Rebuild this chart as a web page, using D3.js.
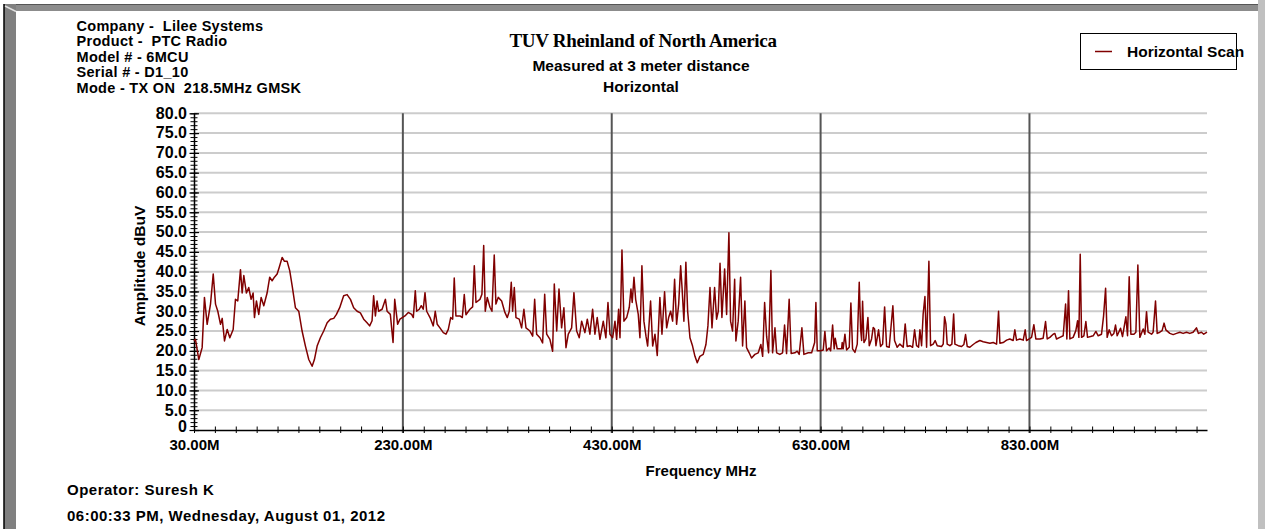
<!DOCTYPE html>
<html><head><meta charset="utf-8">
<script src="https://cdn.jsdelivr.net/npm/d3@7/dist/d3.min.js"></script>
<style>
body{margin:0;background:#fff;overflow:hidden;}
svg{display:block;}
text{font-family:"Liberation Sans",Arial,Helvetica,sans-serif;font-weight:bold;fill:#000;}
</style>
</head><body>
<svg id="chart" width="1265" height="529"></svg>
<script>
// ---------------- data ----------------
const headerLines = ["Company -  Lilee Systems","Product -  PTC Radio","Model # - 6MCU","Serial # - D1_10","Mode - TX ON  218.5MHz GMSK"];
const titleText = "TUV Rheinland of North America";
const subtitleLines = ["Measured at 3 meter distance","Horizontal"];
const seriesName = "Horizontal Scan";
const xAxisTitle = "Frequency MHz";
const yAxisTitle = "Amplitude dBuV";
const footerLines = ["Operator: Suresh K","06:00:33 PM, Wednesday, August 01, 2012"];
const xTickValues = [30,230,430,630,830];
const xTickLabels = ["30.00M","230.00M","430.00M","630.00M","830.00M"];
const yTickValues = [0,5,10,15,20,25,30,35,40,45,50,55,60,65,70,75,80];
const yTickLabels = ["0","5.0","10.0","15.0","20.0","25.0","30.0","35.0","40.0","45.0","50.0","55.0","60.0","65.0","70.0","75.0","80.0"];

const freqMHz = [
30.0,31.4,34.6,37.8,40.0,42.6,45.8,48.4,50.6,52.8,55.4,57.0,59.2,61.8,64.3,67.5,69.7,71.9,74.5,76.1,
77.7,80.2,82.4,84.7,86.6,87.9,89.8,92.0,94.3,96.8,100.0,102.5,104.8,107.0,109.6,111.5,114.4,116.6,119.2,121.7,
124.0,127.1,130.3,133.5,136.7,139.9,143.1,145.3,147.9,151.0,154.2,157.5,160.6,163.8,166.4,169.5,173.3,176.6,179.8,182.9,
186.2,189.3,192.5,195.7,198.2,200.5,202.0,203.7,205.3,206.8,210.1,213.3,214.9,218.0,220.6,222.2,225.0,
227.2,232.0,235.2,238.4,240.0,241.9,243.2,245.7,247.6,249.5,251.2,252.8,256.0,259.1,261.0,262.9,265.5,268.7,271.3,273.5,
275.8,277.7,279.2,280.8,284.7,286.9,288.8,290.4,294.2,296.8,298.4,300.0,303.8,305.7,307.4,308.9,310.8,313.4,315.3,317.5,
319.1,321.3,324.6,327.7,330.0,331.9,333.8,335.1,336.7,338.3,341.4,343.7,345.9,347.9,351.7,354.3,356.2,358.1,361.3,363.8,
365.8,367.7,370.8,373.4,375.0,377.3,379.5,382.0,384.2,386.2,388.4,391.6,393.8,396.4,398.9,401.2,404.3,406.6,409.1,411.7,
413.9,416.1,418.7,421.9,424.4,426.4,428.3,430.9,433.1,434.7,436.6,437.9,439.8,441.7,444.3,446.8,
448.4,449.6,451.3,452.9,455.4,457.0,458.9,460.8,462.8,464.4,467.2,469.2,471.4,473.6,476.1,478.1,480.6,482.6,484.5,486.4,
488.3,490.2,492.1,494.1,496.0,497.5,499.1,501.0,502.7,504.9,507.4,509.7,511.9,514.4,517.6,520.2,522.1,524.1,526.0,528.5,
530.4,532.0,533.7,535.5,538.1,540.0,542.2,543.8,545.7,547.7,548.9,551.1,553.4,555.3,557.5,559.1,561.6,563.9,567.1,570.3,
572.8,574.5,576.4,578.3,580.2,582.4,584.0,586.3,587.9,591.0,593.6,595.5,597.4,599.9,601.8,605.4,607.6,609.5,612.1,614.0,
618.2,621.4,
624.3,625.5,626.8,630.0,632.5,634.1,635.7,638.2,639.6,641.5,643.0,644.0,645.9,650.1,650.7,651.6,653.3,654.9,657.4,659.0,
660.6,662.9,665.1,667.0,668.3,669.3,670.2,671.5,673.4,675.3,676.6,678.8,680.4,681.7,683.0,685.5,687.4,689.4,691.3,693.2,
695.7,699.2,700.8,703.3,705.9,709.1,711.0,712.9,715.5,718.1,720.0,721.9,723.8,725.1,726.7,728.2,729.9,731.5,733.7,735.3,
737.8,739.7,741.7,745.8,747.4,748.7,750.0,751.2,753.8,755.7,757.4,758.6,761.8,765.0,767.2,768.8,770.4,772.9,776.1,778.7,
782.5,785.7,788.9,792.1,795.3,798.5,800.4,801.7,804.8,808.1,811.2,814.4,816.0,817.6,820.8,824.0,825.9,827.2,829.7,
832.0,834.2,836.1,840.0,843.1,845.4,847.0,849.5,852.7,854.3,855.9,859.1,862.3,864.6,865.8,867.4,868.7,871.8,874.4,876.1,
877.3,878.6,879.9,882.1,884.0,885.6,888.5,891.0,893.6,895.8,899.0,901.0,902.9,904.4,906.3,908.6,910.8,912.4,914.0,917.2,
919.1,922.3,923.9,925.5,927.1,930.0,931.9,933.8,935.7,938.9,940.5,942.1,943.6,946.9,948.4,950.7,952.3,954.8,957.0,958.9,
960.6,964.4,967.6,970.8,974.0,977.1,980.4,983.5,986.7,989.9,991.8,994.7,996.9,1000.0
];
const amplitudeDbuV = [
22.5,22.9,17.8,20.8,33.5,26.7,31.8,39.4,31.8,30.0,26.7,28.2,22.5,25.4,23.3,25.4,33.0,32.6,40.5,34.6,
39.0,34.6,36.0,33.0,34.6,28.4,32.6,29.2,33.5,31.4,34.6,38.6,37.7,38.6,39.4,41.0,43.6,42.6,42.6,40.2,
36.4,30.9,30.0,25.0,21.2,17.8,16.1,17.8,21.2,23.3,25.0,27.1,28.0,28.2,29.2,30.9,33.9,34.2,33.0,30.9,
30.0,29.6,28.0,27.1,26.3,27.6,33.9,28.8,32.6,30.0,30.5,33.0,30.0,29.2,22.1,33.0,26.7,
28.0,28.8,29.7,29.2,28.4,35.2,30.0,30.5,31.4,30.5,34.7,30.0,28.4,26.3,30.0,26.7,25.8,24.6,24.2,25.4,
28.4,28.0,38.4,28.8,28.8,28.4,34.2,29.1,30.5,31.1,41.5,32.2,33.0,34.3,46.6,30.0,33.5,31.0,30.0,44.2,
31.8,33.5,32.6,29.7,28.4,30.0,37.3,30.0,36.0,28.4,28.0,25.8,30.5,25.8,25.0,23.7,33.0,24.2,23.3,22.0,
34.3,24.2,22.9,19.9,36.9,25.0,35.6,25.8,30.9,20.8,24.2,25.8,34.7,25.0,23.3,27.5,24.6,28.0,24.2,30.5,
24.2,28.4,22.9,27.5,23.3,32.2,24.2,23.3,27.5,22.9,30.5,23.3,45.5,27.5,28.4,31.0,
35.6,32.2,38.6,33.0,29.2,23.3,41.5,27.5,23.7,21.2,32.6,21.2,24.2,18.8,33.5,24.2,34.9,25.8,28.4,30.0,
27.5,38.1,26.7,31.8,41.5,35.2,27.5,42.4,30.0,23.3,21.2,18.6,17.0,18.6,19.1,21.6,26.3,36.0,25.8,36.0,
28.0,30.0,42.1,28.4,40.7,29.2,49.8,27.5,25.0,38.1,22.5,27.5,38.6,21.2,32.6,20.8,19.5,18.2,19.1,19.5,
21.6,18.6,32.2,23.7,19.5,40.3,19.5,25.8,19.5,19.1,19.5,26.5,19.3,33.0,19.3,19.5,19.9,19.1,25.8,19.1,
19.5,19.5,
22.1,32.2,20.0,20.0,20.2,24.9,20.0,20.7,20.0,26.5,20.5,23.2,20.5,20.5,22.1,20.5,24.2,20.2,20.9,32.1,
20.5,19.6,21.7,37.3,25.5,22.6,32.5,22.1,23.0,28.4,21.3,23.0,25.9,25.5,21.3,25.3,21.1,21.7,31.1,21.1,
20.9,31.4,22.6,20.9,21.7,20.9,26.8,21.1,21.3,20.9,25.3,21.3,20.9,25.3,21.3,29.3,33.7,20.9,42.6,21.3,
21.7,22.6,21.3,21.1,21.7,28.6,26.8,21.7,21.3,21.7,29.3,21.7,21.3,21.1,21.6,24.1,21.1,20.9,21.6,22.1,
22.6,22.3,22.1,21.9,22.1,21.7,30.0,21.9,22.1,22.7,23.0,22.6,25.3,22.7,23.0,22.7,25.3,22.6,23.0,
23.4,26.6,23.0,23.0,23.2,27.4,23.0,23.4,24.2,24.4,23.0,23.4,23.8,31.8,23.0,35.2,23.0,23.4,25.1,27.6,
23.4,44.4,23.4,23.8,27.4,23.4,23.6,23.8,24.9,23.8,24.2,28.9,35.8,23.4,25.3,23.8,24.4,26.5,23.8,25.7,
23.6,28.6,23.8,38.7,24.2,24.2,24.7,41.7,23.4,25.5,24.2,29.9,24.7,24.2,24.7,32.6,24.4,24.7,25.1,27.0,
25.3,24.4,24.1,24.4,24.7,24.4,24.7,24.4,24.7,25.8,24.4,24.7,24.2,24.7
];

// ---------------- drawing ----------------
const svg = d3.select("#chart");

// window frame
svg.append("rect").attr("x",0).attr("y",0).attr("width",1265).attr("height",529).attr("fill","#ffffff");
svg.append("rect").attr("x",4).attr("y",4).attr("width",1254).attr("height",7).attr("fill","#8c8c8c");
svg.append("line").attr("x1",4).attr("y1",4.5).attr("x2",1258).attr("y2",4.5).attr("stroke","#555").attr("stroke-width",1);
svg.append("rect").attr("x",4).attr("y",4).attr("width",12).attr("height",525).attr("fill","#808080");
svg.append("line").attr("x1",4).attr("y1",4).attr("x2",4).attr("y2",529).attr("stroke","#000").attr("stroke-width",1.5);
svg.append("line").attr("x1",5).attr("y1",6).attr("x2",16).attr("y2",11.5).attr("stroke","#e0e0e0").attr("stroke-width",1.5);
svg.append("rect").attr("x",1258).attr("y",0).attr("width",7).attr("height",529).attr("fill","#c0c0c0");

const x = d3.scaleLinear().domain([30,1000]).range([194,1207]);
const y = d3.scaleLinear().domain([0,80]).range([430,113.3]);

// horizontal grid
svg.append("g").selectAll("line").data(yTickValues.filter(v=>v>0)).join("line")
  .attr("x1",x(30)).attr("x2",x(1000)).attr("y1",d=>y(d)).attr("y2",d=>y(d))
  .attr("stroke","#cccccc").attr("stroke-width",2);
// vertical grid
svg.append("g").selectAll("line").data(xTickValues.filter(v=>v>30)).join("line")
  .attr("x1",d=>x(d)).attr("x2",d=>x(d)).attr("y1",y(80)).attr("y2",y(0)+3)
  .attr("stroke","#555555").attr("stroke-width",2);

// x axis (minor ticks crossing)
const xMinor = d3.range(30,1000,20);
const xAx = svg.append("g").attr("transform",`translate(0,${y(0)})`)
  .call(d3.axisBottom(x).tickValues(xMinor).tickSize(3).tickFormat("").tickSizeOuter(0));
xAx.select(".domain").attr("stroke","#000").attr("stroke-width",1.5);
xAx.selectAll(".tick line").attr("y1",-3.5).attr("y2",3).attr("stroke","#000");
const xLab = svg.append("g").attr("transform",`translate(0,${y(0)})`)
  .call(d3.axisBottom(x).tickValues(xTickValues).tickSize(0).tickPadding(9)
     .tickFormat((d,i)=>xTickLabels[i]));
xLab.select(".domain").remove();
xLab.selectAll("text").attr("font-size","15px").attr("font-family",null).attr("font-weight","bold");

// y axis
const yAx = svg.append("g").attr("transform",`translate(${x(30)},0)`)
  .call(d3.axisLeft(y).tickValues(d3.range(0,81,1)).tickSize(3).tickFormat("").tickSizeOuter(0));
yAx.select(".domain").attr("stroke","#000").attr("stroke-width",1.5);
yAx.selectAll(".tick line").attr("x1",-3.5).attr("x2",3.5).attr("stroke","#000");
const yLab = svg.append("g").attr("transform",`translate(${x(30)},0)`)
  .call(d3.axisLeft(y).tickValues(yTickValues).tickSize(5).tickPadding(2)
     .tickFormat((d,i)=>yTickLabels[i]));
yLab.select(".domain").remove();
yLab.selectAll(".tick line").attr("x1",-4.5).attr("x2",5).attr("stroke","#000").attr("stroke-width",1.2);
yLab.selectAll("text").attr("font-size","16px").attr("font-family",null).attr("font-weight","bold")
  .attr("dy",(d)=> d===0 ? "0.1em" : "0.3em");

// data trace
const pts = d3.zip(freqMHz, amplitudeDbuV);
svg.append("path").datum(pts)
  .attr("d", d3.line().x(d=>x(d[0])).y(d=>y(d[1])))
  .attr("fill","none").attr("stroke","#800000").attr("stroke-width",1.5).attr("stroke-linejoin","round");

// header text
svg.append("g").selectAll("text").data(headerLines).join("text")
  .attr("x",76.5).attr("y",(d,i)=>31+i*15.4).attr("font-size","14.5px").attr("letter-spacing","0.3px")
  .style("white-space","pre").text(d=>d);

// titles
svg.append("text").attr("x",643).attr("y",47).attr("text-anchor","middle")
  .style("font-family","'Liberation Serif','Times New Roman',serif").attr("font-size","19px")
  .attr("letter-spacing","-0.3px").text(titleText);
svg.append("g").selectAll("text").data(subtitleLines).join("text")
  .attr("x",641).attr("y",(d,i)=>71+i*21).attr("text-anchor","middle").attr("font-size","15.5px").text(d=>d);

// legend
svg.append("rect").attr("x",1080.5).attr("y",33.5).attr("width",156).attr("height",36)
  .attr("fill","#fff").attr("stroke","#000").attr("stroke-width",1);
svg.append("line").attr("x1",1095).attr("x2",1112).attr("y1",51.5).attr("y2",51.5)
  .attr("stroke","#800000").attr("stroke-width",1.5);
svg.append("text").attr("x",1127).attr("y",57).attr("font-size","15.5px").text(seriesName);

// axis titles
svg.append("text").attr("x",701).attr("y",476).attr("text-anchor","middle").attr("font-size","15px").text(xAxisTitle);
svg.append("text").attr("transform","translate(145,266) rotate(-90)").attr("text-anchor","middle")
  .attr("font-size","15.5px").text(yAxisTitle);

// footer
svg.append("g").selectAll("text").data(footerLines).join("text")
  .attr("x",67).attr("y",(d,i)=>495+i*26).attr("font-size","15px").attr("letter-spacing","0.5px").text(d=>d);
</script>
</body></html>
